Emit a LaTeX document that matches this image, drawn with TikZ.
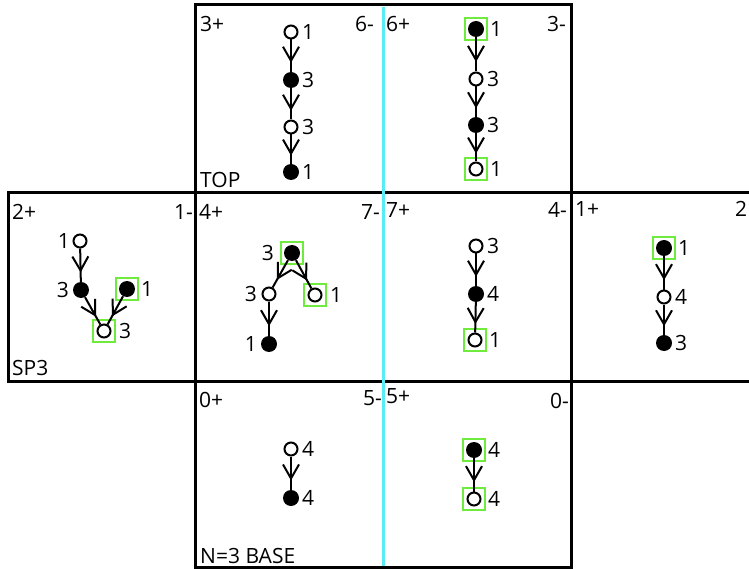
\documentclass[tikz,border=0pt]{standalone}
\usepackage{fontspec}
\setmainfont{Open Sans}
\usetikzlibrary{arrows.meta,decorations.markings}
\definecolor{hlgreen}{RGB}{110,235,60}
\definecolor{cyanline}{RGB}{90,235,245}
\tikzset{
 frame/.style={line width=3pt},
 opn/.style={circle,draw,line width=2pt,minimum size=13pt,inner sep=0pt,fill=white},
 fil/.style={circle,fill,minimum size=16pt,inner sep=0pt},
 hl/.style={draw=hlgreen,line width=2pt,minimum size=22pt,inner sep=0pt},
 num/.style={font=\fontsize{21}{21}\selectfont,inner sep=0pt},
 corner/.style={font=\fontsize{21}{21}\selectfont,inner sep=0pt},
 edgeline/.style={line width=2pt,postaction={decorate},decoration={markings,mark=at position 0.72 with {\arrow[line width=2pt]{Straight Barb[length=14pt,width=16pt]}}}},
}
\begin{document}
\begin{tikzpicture}[x=1pt,y=-1pt]
\useasboundingbox (0,0) rectangle (749,569);
\begin{scope}
\clip (0,0) rectangle (749,569);
% frames
\draw[frame] (195,5) rectangle (571,193);
\draw[frame] (8,193) rectangle (760,381);
\draw[frame] (195,193) -- (195,381);
\draw[frame] (571,193) -- (571,381);
\draw[frame] (195,381) rectangle (571,567);
\draw[cyanline,line width=3pt] (383,7) -- (383,566);
\end{scope}
% corner labels
\node[corner,anchor=base west] (l3p) at (200,32) {3+};
\node[corner,anchor=base east] (l6m) at (374,32) {6-};
\node[corner,anchor=base west] (ltop) at (200,188) {TOP};
\node[corner,anchor=base west] (l6p) at (386,32) {6+};
\node[corner,anchor=base east] (l3m) at (566,32) {3-};
\node[corner,anchor=base west] (l2p) at (12,220) {2+};
\node[corner,anchor=base east] (l1m) at (193,220) {1-};
\node[corner,anchor=base west] (lsp) at (12,375) {SP3};
\node[corner,anchor=base west] (l4p) at (199,220) {4+};
\node[corner,anchor=base east] (l7m) at (380,220) {7-};
\node[corner,anchor=base west] (l7p) at (386,218) {7+};
\node[corner,anchor=base east] (l4m) at (567,218) {4-};
\node[corner,anchor=base west] (l1p) at (575,217) {1+};
\node[corner,anchor=base west] (l2m) at (735,217) {2};
\node[corner,anchor=base west] (l0p) at (199,407) {0+};
\node[corner,anchor=base east] (l5m) at (382,405) {5-};
\node[corner,anchor=base west] (lbase) at (200,563) {N=3 BASE};
\node[corner,anchor=base west] (l5p) at (386,403) {5+};
\node[corner,anchor=base east] (l0m) at (569,408) {0-};
% TOP cell
\node[opn] (a1) at (291,32) {};
\node[fil] (a2) at (291,80) {};
\node[opn] (a3) at (291,127) {};
\node[fil] (a4) at (291,172) {};
\draw[edgeline] (a1) -- (a2);
\draw[edgeline] (a2) -- (a3);
\draw[edgeline] (a3) -- (a4);
\node[num,anchor=west] (a1l) at ([xshift=11pt]a1.center) {1};
\node[num,anchor=west] (a2l) at ([xshift=11pt]a2.center) {3};
\node[num,anchor=west] (a3l) at ([xshift=11pt]a3.center) {3};
\node[num,anchor=west] (a4l) at ([xshift=11pt]a4.center) {1};
% 6+ cell
\node[fil] (b1) at (476,29) {};
\node[opn] (b2) at (476,79) {};
\node[fil] (b3) at (476,125) {};
\node[opn] (b4) at (476,169) {};
\node[hl] (b1h) at (b1) {};
\node[hl] (b4h) at (b4) {};
\draw[edgeline] (b1) -- (b2);
\draw[edgeline] (b2) -- (b3);
\draw[edgeline] (b3) -- (b4);
\node[num,anchor=west] (b1l) at ([xshift=14pt]b1.center) {1};
\node[num,anchor=west] (b2l) at ([xshift=11pt]b2.center) {3};
\node[num,anchor=west] (b3l) at ([xshift=11pt]b3.center) {3};
\node[num,anchor=west] (b4l) at ([xshift=14pt]b4.center) {1};
% SP3 cell
\node[opn] (c1) at (80,241) {};
\node[fil] (c2) at (81,290) {};
\node[fil] (c3) at (127,289) {};
\node[opn] (c4) at (104,331) {};
\node[hl] (c3h) at (c3) {};
\node[hl] (c4h) at (c4) {};
\draw[edgeline] (c1) -- (c2);
\draw[edgeline] (c2) -- (c4);
\draw[edgeline] (c3) -- (c4);
\node[num,anchor=east] (c1l) at ([xshift=-10pt]c1.center) {1};
\node[num,anchor=east] (c2l) at ([xshift=-12pt]c2.center) {3};
\node[num,anchor=west] (c3l) at ([xshift=14pt]c3.center) {1};
\node[num,anchor=west] (c4l) at ([xshift=15pt]c4.center) {3};
% 4+ cell
\node[fil] (d1) at (292,253) {};
\node[opn] (d2) at (269,294) {};
\node[opn] (d3) at (315,295) {};
\node[fil] (d4) at (269,344) {};
\node[hl] (d1h) at (d1) {};
\node[hl] (d3h) at (d3) {};
\draw[edgeline] (d1) -- (d2);
\draw[edgeline] (d1) -- (d3);
\draw[edgeline] (d2) -- (d4);
\node[num,anchor=east] (d1l) at ([xshift=-18pt]d1.center) {3};
\node[num,anchor=east] (d2l) at ([xshift=-12pt]d2.center) {3};
\node[num,anchor=west] (d3l) at ([xshift=15pt]d3.center) {1};
\node[num,anchor=east] (d4l) at ([xshift=-12pt]d4.center) {1};
% 7+ cell
\node[opn] (e1) at (476,246) {};
\node[fil] (e2) at (476,294) {};
\node[opn] (e3) at (475,340) {};
\node[hl] (e3h) at (e3) {};
\draw[edgeline] (e1) -- (e2);
\draw[edgeline] (e2) -- (e3);
\node[num,anchor=west] (e1l) at ([xshift=11pt]e1.center) {3};
\node[num,anchor=west] (e2l) at ([xshift=11pt]e2.center) {4};
\node[num,anchor=west] (e3l) at ([xshift=14pt]e3.center) {1};
% 1+ cell
\node[fil] (f1) at (664,248) {};
\node[opn] (f2) at (664,297) {};
\node[fil] (f3) at (664,343) {};
\node[hl] (f1h) at (f1) {};
\draw[edgeline] (f1) -- (f2);
\draw[edgeline] (f2) -- (f3);
\node[num,anchor=west] (f1l) at ([xshift=14pt]f1.center) {1};
\node[num,anchor=west] (f2l) at ([xshift=11pt]f2.center) {4};
\node[num,anchor=west] (f3l) at ([xshift=11pt]f3.center) {3};
% 0+ cell
\node[opn] (g1) at (291,449) {};
\node[fil] (g2) at (291,498) {};
\draw[edgeline] (g1) -- (g2);
\node[num,anchor=west] (g1l) at ([xshift=11pt]g1.center) {4};
\node[num,anchor=west] (g2l) at ([xshift=11pt]g2.center) {4};
% 5+ cell
\node[fil] (h1) at (474,450) {};
\node[opn] (h2) at (474,499) {};
\node[hl] (h1h) at (h1) {};
\node[hl] (h2h) at (h2) {};
\draw[edgeline] (h1) -- (h2);
\node[num,anchor=west] (h1l) at ([xshift=14pt]h1.center) {4};
\node[num,anchor=west] (h2l) at ([xshift=14pt]h2.center) {4};
\end{tikzpicture}
\end{document}
